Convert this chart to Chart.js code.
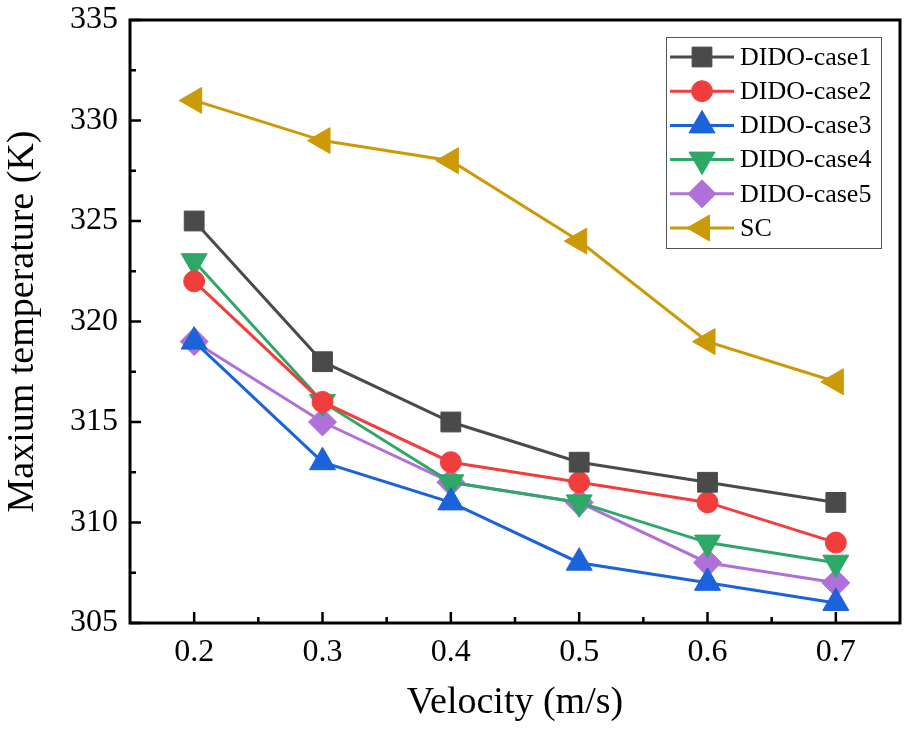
<!DOCTYPE html>
<html>
<head>
<meta charset="utf-8">
<script src="https://cdn.jsdelivr.net/npm/chart.js@4.4.0/dist/chart.umd.min.js"></script>
<style>
  html, body { margin: 0; background: #fff; overflow: hidden; }
  #wrap { width: 910px; height: 731px; position: relative; }
</style>
</head>
<body>
<div id="wrap"><canvas id="c"></canvas></div>
<script>
const velocity = [0.2, 0.3, 0.4, 0.5, 0.6, 0.7];
const case1 = [325, 318, 315, 313, 312, 311];
const case2 = [322, 316, 313, 312, 311, 309];
const case3 = [319, 313, 311, 308, 307, 306];
const case4 = [323, 316, 312, 311, 309, 308];
const case5 = [319, 315, 312, 311, 308, 307];
const sc    = [331, 329, 328, 324, 319, 317];
const labels = ['DIDO-case1', 'DIDO-case2', 'DIDO-case3', 'DIDO-case4', 'DIDO-case5', 'SC'];
const xTicks = [0.2, 0.3, 0.4, 0.5, 0.6, 0.7];
const xMinor = [0.25, 0.35, 0.45, 0.55, 0.65];
const yTicks = [305, 310, 315, 320, 325, 330, 335];
const yMinor = [307.5, 312.5, 317.5, 322.5, 327.5, 332.5];

const FONT = "'Liberation Serif', 'Times New Roman', serif";

const styles = [
  { color: '#4a4a4a', pointStyle: 'rect', radius: 14, rotation: 0 },
  { color: '#f23d3d', pointStyle: 'circle', radius: 10.5, rotation: 0 },
  { color: '#1a63db', pointStyle: 'triangle', radius: 15, rotation: 0 },
  { color: '#2da866', pointStyle: 'triangle', radius: 15, rotation: 180 },
  { color: '#b070d9', pointStyle: 'rectRot', radius: 14, rotation: 0 },
  { color: '#cc9a06', pointStyle: 'triangle', radius: 15, rotation: 270 }
];

const series = [case1, case2, case3, case4, case5, sc];

const datasets = series.map((vals, i) => ({
  label: labels[i],
  data: vals.map((v, j) => ({ x: velocity[j], y: v })),
  borderColor: styles[i].color,
  backgroundColor: styles[i].color,
  borderWidth: 3,
  pointStyle: styles[i].pointStyle,
  pointRadius: styles[i].radius,
  pointRotation: styles[i].rotation,
  pointBorderWidth: 1,
  pointHoverRadius: styles[i].radius,
  tension: 0,
  clip: false
}));

// frame + inward ticks
const framePlugin = {
  id: 'frame',
  beforeDatasetsDraw(chart) {
    const { ctx, chartArea: a, scales: { x, y } } = chart;
    ctx.save();
    ctx.strokeStyle = '#000';
    ctx.lineWidth = 3;
    ctx.strokeRect(a.left, a.top, a.right - a.left, a.bottom - a.top);
    ctx.lineWidth = 2.5;
    ctx.beginPath();
    xTicks.forEach(v => { const p = x.getPixelForValue(v); ctx.moveTo(p, a.bottom); ctx.lineTo(p, a.bottom - 11); });
    xMinor.forEach(v => { const p = x.getPixelForValue(v); ctx.moveTo(p, a.bottom); ctx.lineTo(p, a.bottom - 6); });
    yTicks.forEach(v => { const p = y.getPixelForValue(v); ctx.moveTo(a.left, p); ctx.lineTo(a.left + 11, p); });
    yMinor.forEach(v => { const p = y.getPixelForValue(v); ctx.moveTo(a.left, p); ctx.lineTo(a.left + 6, p); });
    ctx.stroke();
    ctx.restore();
  }
};

// boxed legend with line + marker samples
const legendPlugin = {
  id: 'boxLegend',
  afterDatasetsDraw(chart) {
    const ctx = chart.ctx;
    const box = { left: 666, top: 37, right: 881, bottom: 248 };
    ctx.save();
    ctx.fillStyle = '#fff';
    ctx.fillRect(box.left, box.top, box.right - box.left, box.bottom - box.top);
    ctx.strokeStyle = '#555';
    ctx.lineWidth = 1;
    ctx.strokeRect(box.left + 0.5, box.top + 0.5, box.right - box.left, box.bottom - box.top);
    ctx.font = '26px ' + FONT;
    ctx.textBaseline = 'middle';
    chart.data.datasets.forEach((ds, i) => {
      const cy = 57 + i * 34.2;
      ctx.strokeStyle = ds.borderColor;
      ctx.lineWidth = 3;
      ctx.beginPath();
      ctx.moveTo(670, cy); ctx.lineTo(734, cy);
      ctx.stroke();
      ctx.fillStyle = ds.backgroundColor;
      ctx.lineWidth = 1;
      Chart.helpers.drawPoint(ctx, {
        pointStyle: ds.pointStyle, rotation: ds.pointRotation,
        radius: ds.pointRadius, borderWidth: 1
      }, 702, cy);
      ctx.fillStyle = '#000';
      ctx.fillText(ds.label, 740, cy + 1);
    });
    ctx.restore();
  }
};

new Chart(document.getElementById('c'), {
  type: 'line',
  data: { datasets },
  plugins: [framePlugin, legendPlugin],
  options: {
    responsive: true,
    maintainAspectRatio: false,
    animation: false,
    layout: { autoPadding: false, padding: { top: 20, right: 10, left: 0, bottom: 0 } },
    plugins: { legend: { display: false }, tooltip: { enabled: false } },
    scales: {
      x: {
        type: 'linear', min: 0.15, max: 0.75,
        afterBuildTicks: s => { s.ticks = xTicks.map(v => ({ value: v })); },
        afterFit: s => { s.height = 108; s.paddingLeft = 0; s.paddingRight = 0; },
        grid: { display: false, drawTicks: false },
        border: { display: false },
        ticks: { color: '#000', padding: 10, font: { family: FONT, size: 32 }, callback: v => v.toFixed(1) },
        title: { display: true, text: 'Velocity (m/s)', color: '#000', font: { family: FONT, size: 38 }, padding: { top: 0, bottom: 5 } }
      },
      y: {
        min: 305, max: 335,
        afterBuildTicks: s => { s.ticks = yTicks.map(v => ({ value: v })); },
        afterFit: s => { s.width = 130; s.paddingTop = 0; s.paddingBottom = 0; },
        grid: { display: false, drawTicks: false },
        border: { display: false },
        ticks: { color: '#000', padding: 12, font: { family: FONT, size: 32 } },
        title: { display: true, text: 'Maxium temperature (K)', color: '#000', font: { family: FONT, size: 38 }, padding: { top: 0, bottom: 0 } }
      }
    }
  }
});
</script>
</body>
</html>
